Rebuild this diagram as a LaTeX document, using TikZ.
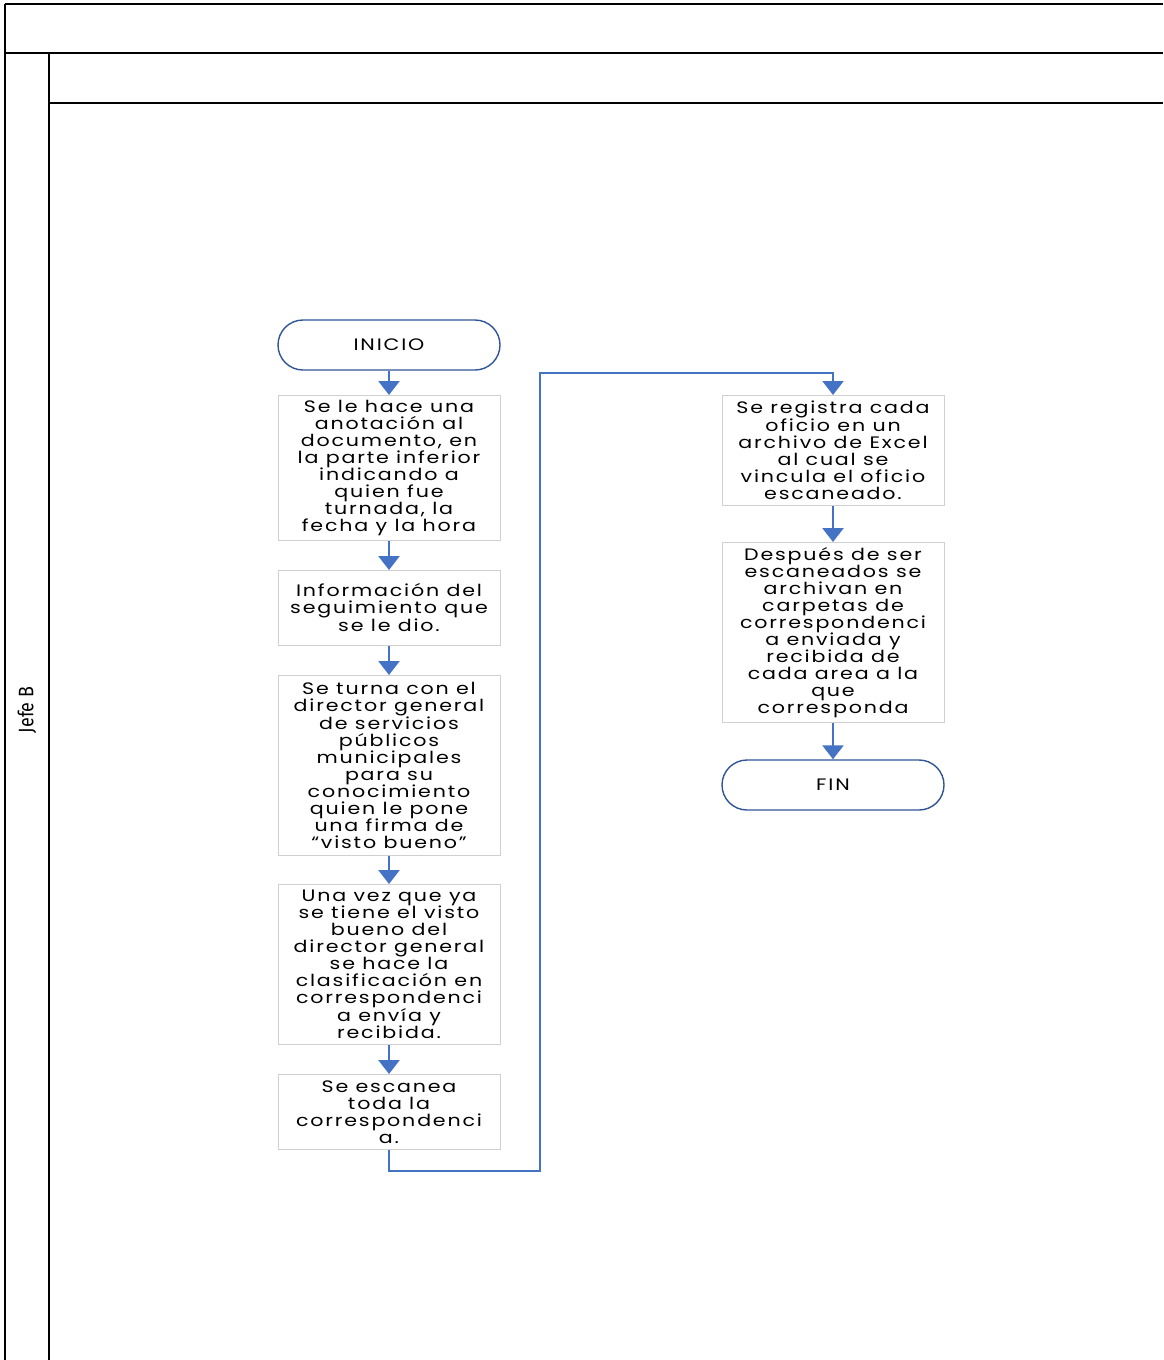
\documentclass[tikz,border=0pt]{standalone}
\usepackage{fontspec}
\setmainfont{Poppins}[LetterSpace=11,FakeStretch=1.24]
\newfontfamily\lanefont{Fira Sans}[FakeStretch=0.85]
\usetikzlibrary{arrows.meta}
\definecolor{flowblue}{HTML}{4472C4}
\definecolor{termblue}{HTML}{2F5597}
\definecolor{boxgray}{HTML}{D0D0D0}
\tikzset{
  lane/.style={line width=1.8pt, black},
  procbox/.style={draw=boxgray, line width=0.8pt, minimum width=222pt, inner sep=0pt, align=center, font=\fontsize{16.6}{17}\selectfont, anchor=north},
  terminal/.style={draw=termblue, line width=1.4pt, rounded corners=25pt, minimum width=222pt, minimum height=50pt, inner sep=0pt, align=center, font=\fontsize{16.6}{17}\selectfont},
  flow/.style={draw=flowblue, line width=2.6pt, -{Triangle[width=21pt,length=14pt]}},
}
\begin{document}
\begin{tikzpicture}[x=1pt,y=-1pt]
\useasboundingbox (0,0) rectangle (1163,1360);
% swimlane frame
\draw[lane] (5,4) -- (1163,4);
\draw[lane] (5,53) -- (1163,53);
\draw[lane] (5,4) -- (5,1360);
\draw[lane] (49,53) -- (49,1360);
\draw[lane] (49,103) -- (1163,103);
\node[font=\lanefont\fontsize{21}{21}\selectfont, rotate=90] (lane) at (27,710) {Jefe B};
% nodes
\node[terminal] (inicio) at (389,345) {INICIO};
\node[procbox, minimum height=145pt] (b1) at (389,395) {Se le hace una\\anotación al\\documento, en\\la parte inferior\\indicando a\\quien fue\\turnada, la\\fecha y la hora};
\node[procbox, minimum height=75pt] (b2) at (389,570) {Información del\\seguimiento que\\se le dio.};
\node[procbox, minimum height=180pt] (b3) at (389,675) {Se turna con el\\director general\\de servicios\\públicos\\municipales\\para su\\conocimiento\\quien le pone\\una firma de\\“visto bueno”};
\node[procbox, minimum height=160pt] (b4) at (389,884) {Una vez que ya\\se tiene el visto\\bueno del\\director general\\se hace la\\clasificación en\\correspondenci\\a envía y\\recibida.};
\node[procbox, minimum height=75pt] (b5) at (389,1074) {Se escanea\\toda la\\correspondenci\\a.};
\node[procbox, minimum height=110pt] (b6) at (833,395) {Se registra cada\\oficio en un\\archivo de Excel\\al cual se\\vincula el oficio\\escaneado.};
\node[procbox, minimum height=180pt] (b7) at (833,542) {Después de ser\\escaneados se\\archivan en\\carpetas de\\correspondenci\\a enviada y\\recibida de\\cada area a la\\que\\corresponda};
\node[terminal] (fin) at (833,785) {FIN};
% connectors
\draw[flow] (inicio.south) -- (b1.north);
\draw[flow] (b1.south) -- (b2.north);
\draw[flow] (b2.south) -- (b3.north);
\draw[flow] (b3.south) -- (b4.north);
\draw[flow] (b4.south) -- (b5.north);
\coordinate (c1) at (389,1171);
\coordinate (c2) at (540,1171);
\coordinate (c3) at (540,373);
\coordinate (c4) at (833,373);
\draw[flow, line width=2.2pt] (b5.south) -- (c1) -- (c2) -- (c3) -- (c4) -- (b6.north);
\draw[flow] (b6.south) -- (b7.north);
\draw[flow] (b7.south) -- (fin.north);
\end{tikzpicture}
\end{document}
